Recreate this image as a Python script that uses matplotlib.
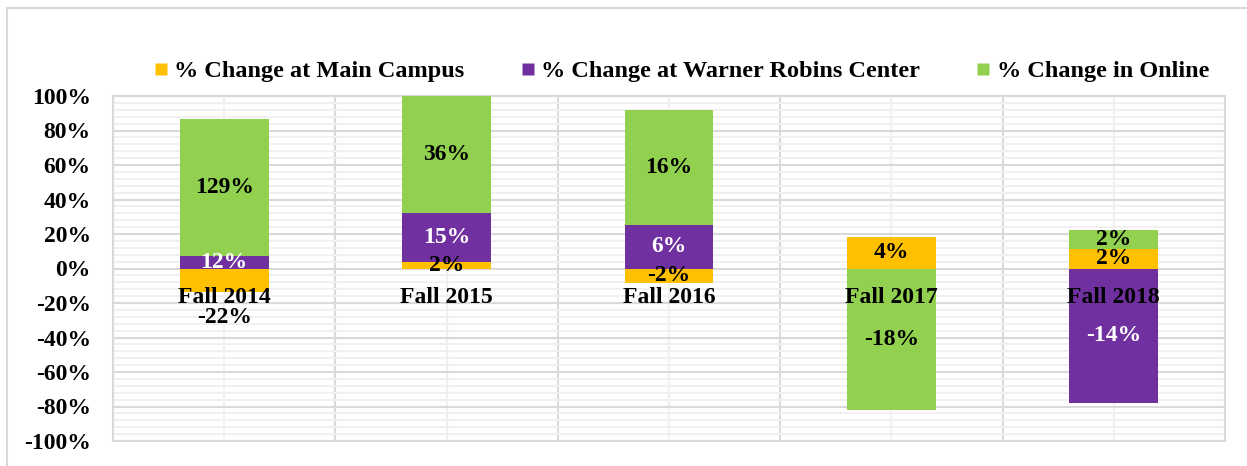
import matplotlib
matplotlib.use("Agg")
import matplotlib.pyplot as plt
import numpy as np
from matplotlib.ticker import MultipleLocator, FuncFormatter
from matplotlib.lines import Line2D

categories = ["Fall 2014", "Fall 2015", "Fall 2016", "Fall 2017", "Fall 2018"]
series_names = ["% Change at Main Campus", "% Change at Warner Robins Center", "% Change in Online"]
main_campus = [-22, 2, -2, 4, 2]
warner_robins = [12, 15, 6, 0, -14]
online = [129, 36, 16, -18, 2]
colors = ["#FFC000", "#7030A0", "#92D050"]
label_colors = ["black", "white", "black"]

plt.rcParams['font.family'] = ['Liberation Serif', 'DejaVu Serif']
plt.rcParams['font.weight'] = 'bold'

fig = plt.figure(figsize=(12.47, 4.66), dpi=100)
ax = fig.add_axes([113/1247, 1-441/466, (1225-113)/1247, (441-96)/466])

series = np.array([main_campus, warner_robins, online], dtype=float)
totals = np.abs(series).sum(axis=0)
pct = series / totals * 100  # 100% stacked columns

x = np.arange(len(categories))
width = 0.4
pos_base = np.zeros(len(categories))
neg_base = np.zeros(len(categories))
for s in range(3):
    vals = pct[s]
    bottoms = np.where(vals >= 0, pos_base, neg_base)
    ax.bar(x, vals, width, bottom=bottoms, color=colors[s], zorder=3,
           edgecolor='none')
    for i in range(len(categories)):
        raw = series[s, i]
        if raw == 0:
            continue
        center = bottoms[i] + vals[i] / 2
        if s == 0 and i == 0:
            # label placed below the bar end
            ax.annotate(f"{raw:.0f}%", (x[i], bottoms[i] + vals[i]), xytext=(0, -11),
                        textcoords='offset points', ha='center', va='top',
                        fontsize=17, fontweight='bold', color='black', zorder=6)
            continue
        ax.text(x[i], center, f"{raw:.0f}%", ha='center', va='center', fontsize=17,
                fontweight='bold', color=label_colors[s], zorder=6)
    pos_base = pos_base + np.where(vals >= 0, vals, 0)
    neg_base = neg_base + np.where(vals < 0, vals, 0)

# category labels at the zero line
for i, c in enumerate(categories):
    ax.annotate(c, (x[i], 0), xytext=(0, -13), textcoords='offset points',
                ha='center', va='top', fontsize=17, fontweight='bold', zorder=7)

ax.set_xlim(-0.5, len(categories) - 0.5)
ax.set_ylim(-100, 100)
ax.yaxis.set_major_locator(MultipleLocator(20))
ax.yaxis.set_minor_locator(MultipleLocator(4))
ax.yaxis.set_major_formatter(FuncFormatter(lambda v, p: f"{v:.0f}%"))
ax.set_xticks(np.arange(len(categories) + 1) - 0.5)
ax.set_xticks(x, minor=True)
ax.set_xticklabels([])
ax.tick_params(axis='both', which='both', length=0)
ax.tick_params(axis='y', labelsize=17, pad=16)
for lab in ax.get_yticklabels():
    lab.set_fontweight('bold')
ax.grid(True, which='major', color='#d9d9d9', linewidth=1.5, zorder=0)
ax.grid(True, which='minor', color='#f0f0f0', linewidth=1.5, zorder=0)
ax.set_axisbelow(True)
for sp in ax.spines.values():
    sp.set_color('#d9d9d9')
    sp.set_linewidth(1.5)

handles = [Line2D([0], [0], marker='s', linestyle='none', markersize=9,
                  markerfacecolor=colors[s], markeredgecolor='none') for s in range(3)]
fig.legend(handles, series_names, loc='center', bbox_to_anchor=(0.546, 1-71/466),
           ncol=3, frameon=False, prop={'family': 'Liberation Serif', 'weight': 'bold', 'size': 17.5},
           handlelength=0.7, handletextpad=0.2, columnspacing=2.25)

# outer frame
fig.add_artist(Line2D([7/1247, 7/1247], [0, 1-8/466], transform=fig.transFigure,
                      color='#d9d9d9', linewidth=1.5))
fig.add_artist(Line2D([7/1247, 1], [1-8/466, 1-8/466], transform=fig.transFigure,
                      color='#d9d9d9', linewidth=1.5))

fig.savefig("out.png", dpi=100)
